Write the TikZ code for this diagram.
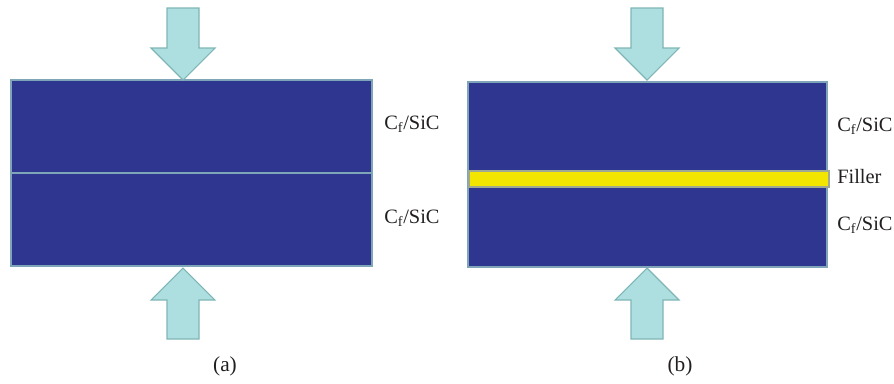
\documentclass[tikz,border=0pt]{standalone}
\usepackage{fontspec}
\setmainfont{Liberation Serif}
\definecolor{slab}{HTML}{2E3690}
\definecolor{slabedge}{HTML}{7FA6B8}
\definecolor{arrowfill}{HTML}{AEDFE0}
\definecolor{arrowedge}{HTML}{7FB5B5}
\definecolor{fillercol}{HTML}{F2E600}
\definecolor{fillerline}{HTML}{9FA890}
\definecolor{txt}{HTML}{231F20}
\begin{document}
\begin{tikzpicture}[x=0.75pt,y=-0.75pt,
  slabbox/.style={fill=slab,draw=slabedge,line width=0.9pt},
  fillerbox/.style={fill=fillercol,draw=fillerline,line width=0.9pt},
  pusharrow/.style={fill=arrowfill,draw=arrowedge,line width=0.8pt,line join=miter},
  lbl/.style={anchor=base west,inner sep=0pt,text=txt,font=\fontsize{15.3}{18}\selectfont},
  captext/.style={anchor=base,inner sep=0pt,text=txt,font=\fontsize{16}{19}\selectfont},
  pushdown/.pic={\path[pusharrow] (0,0) -- (-32,-32) -- (-16,-32) -- (-16,-72) -- (16,-72) -- (16,-32) -- (32,-32) -- cycle;},
  pushup/.pic={\path[pusharrow] (0,0) -- (-32,32) -- (-16,32) -- (-16,71) -- (16,71) -- (16,32) -- (32,32) -- cycle;}
]
\useasboundingbox (0,0) rectangle (894,383);
% panel (a)
\path[slabbox] (11,80) rectangle (372,266);
\draw[slabedge,line width=0.9pt] (11,173) -- (372,173);
\pic at (183,80) {pushdown};
\pic at (183,268) {pushup};
\node[lbl] (a1) at (384,129) {C\textsubscript{f}/SiC};
\node[lbl] (a2) at (384,223) {C\textsubscript{f}/SiC};
\node[captext] (la) at (225,371) {(a)};
% panel (b)
\path[slabbox] (468,82) rectangle (827,267);
\path[fillerbox] (469,171) rectangle (829,187);
\pic at (647,80) {pushdown};
\pic at (647,268) {pushup};
\node[lbl] (b1) at (837,131) {C\textsubscript{f}/SiC};
\node[lbl] (b2) at (837,183) {Filler};
\node[lbl] (b3) at (837,230) {C\textsubscript{f}/SiC};
\node[captext] (lb) at (680,371) {(b)};
\end{tikzpicture}
\end{document}
